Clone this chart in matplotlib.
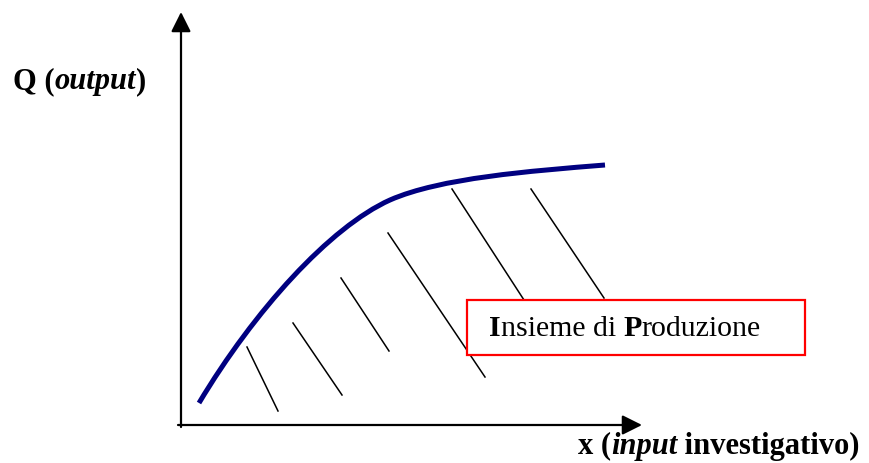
import matplotlib.pyplot as plt
from matplotlib.path import Path
from matplotlib.patches import PathPatch
from matplotlib.offsetbox import TextArea, HPacker, AnnotationBbox

plt.rcParams['font.family'] = ['Liberation Serif', 'DejaVu Serif']

# production frontier as two cubic Bezier pieces (picture coordinates, y down)
curve_pts = [(199, 403), (254, 311), (330, 227), (390, 200),
             (440, 178), (530, 171), (605, 165)]
curve_codes = [Path.MOVETO, Path.CURVE4, Path.CURVE4, Path.CURVE4,
               Path.CURVE4, Path.CURVE4, Path.CURVE4]

# hatch segments inside the production set
hatch_x0 = [247, 293, 341, 388, 452, 531]
hatch_y0 = [347, 323, 278, 233, 189, 189]
hatch_x1 = [278, 342, 389, 485, 524, 604]
hatch_y1 = [411, 395, 351, 377, 300, 298]

box_label = [('I', 'bold'), ('nsieme di ', 'normal'), ('P', 'bold'), ('roduzione', 'normal')]
y_label = [('Q (', 'normal'), ('output', 'italic'), (')', 'normal')]
x_label = [('x (', 'normal'), ('input', 'italic'), (' investigativo)', 'normal')]

fig = plt.figure(figsize=(8.69, 4.63), dpi=100)
ax = fig.add_axes([0, 0, 1, 1])
ax.set_xlim(0, 869)
ax.set_ylim(463, 0)
ax.axis('off')

# axes with arrows
arrow = dict(arrowstyle='-|>,head_length=0.6,head_width=0.3', mutation_scale=20,
             lw=1.6, color='black', shrinkA=0, shrinkB=0)
ax.annotate('', xy=(181, 12), xytext=(181, 427), arrowprops=arrow)
ax.annotate('', xy=(642, 425), xytext=(178, 425), arrowprops=arrow)

ax.add_patch(PathPatch(Path(curve_pts, curve_codes), facecolor='none',
                       edgecolor='#000080', lw=3.6, capstyle='butt', zorder=3))

for x0, y0, x1, y1 in zip(hatch_x0, hatch_y0, hatch_x1, hatch_y1):
    ax.plot([x0, x1], [y0, y1], color='black', lw=1.1, zorder=1)

# box
ax.add_patch(plt.Rectangle((467, 300), 338, 55, facecolor='white', edgecolor='#ff0000',
                           lw=1.6, zorder=4))


def label(parts, size, weight_all, xy):
    areas = []
    for txt, style in parts:
        if style == 'bold':
            p = dict(fontweight='bold', fontstyle='normal')
        elif style == 'italic':
            p = dict(fontweight=weight_all, fontstyle='italic')
        else:
            p = dict(fontweight=weight_all, fontstyle='normal')
        areas.append(TextArea(txt, textprops=dict(fontsize=size, color='black', **p)))
    pack = HPacker(children=areas, align='baseline', pad=0, sep=0)
    ab = AnnotationBbox(pack, xy, xycoords='data', box_alignment=(0, 0.5),
                        frameon=False, pad=0, zorder=5)
    ax.add_artist(ab)


label(box_label, 21.5, 'normal', (489, 329))
label(y_label, 22, 'bold', (13, 82))
label(x_label, 22, 'bold', (578, 446))

fig.savefig('out.png', dpi=100)
